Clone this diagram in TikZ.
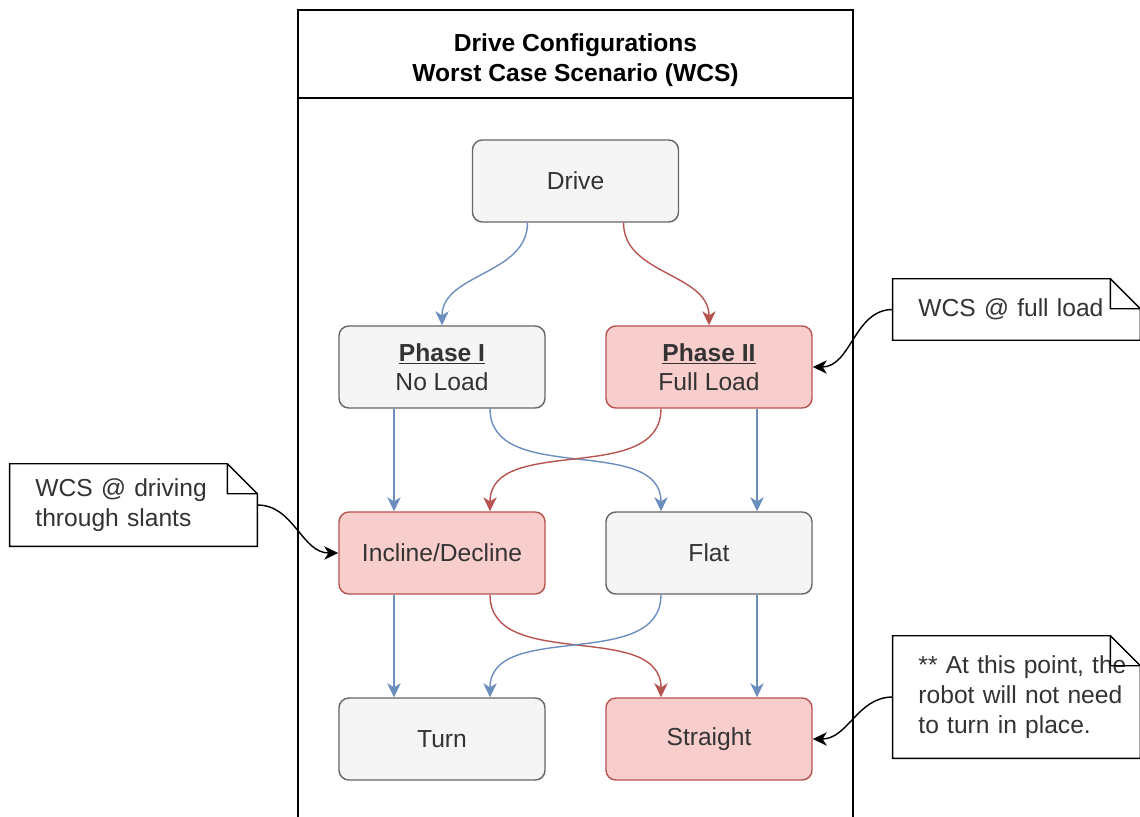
\documentclass[tikz,border=0pt]{standalone}
\usepackage{fontspec}
\setmainfont{Liberation Sans}
\usetikzlibrary{arrows.meta,calc}

\definecolor{lineblue}{HTML}{6C8EBF}
\definecolor{linered}{HTML}{B85450}
\definecolor{fillred}{HTML}{F8CECC}
\definecolor{fillgray}{HTML}{F5F5F5}
\definecolor{linegray}{HTML}{666666}
\definecolor{textgray}{HTML}{333333}

\tikzset{
	every node/.style={font=\fontsize{17.5}{20.5}\selectfont},
	stage/.style={draw=linegray, fill=fillgray, text=textgray, rounded corners=7pt, line width=1pt,
		minimum width=5.15cm, minimum height=2.05cm, align=center},
	hot/.style={stage, draw=linered, fill=fillred},
	note/.style={minimum width=6.175cm, text width=4.9cm, align=left, text=textgray,
		font=\fontsize{17.5}{21.3}\selectfont},
	blueflow/.style={draw=lineblue, line width=1pt, -{Stealth[length=10pt,width=9.5pt,inset=3pt]}},
	redflow/.style={blueflow, draw=linered},
	callout/.style={draw=black, line width=1pt, -{Stealth[length=10pt,width=9.5pt,inset=3pt]}}
}

\begin{document}
\begin{tikzpicture}[x=0.025cm, y=-0.025cm]
		\useasboundingbox (0,0) rectangle (1140,817);

		% Draw the container with its title
		\draw[line width=1pt] (298,817) |- (853,10) -- (853,817);
		\draw[line width=1pt] (298,98) -- (853,98);
		\node[align=center, font=\fontsize{17.5}{21}\selectfont\bfseries] (title) at (575.5,60)
			{Drive Configurations\\Worst Case Scenario (WCS)};

		% Place the stages
		\node[stage] (drive) at (575.5,181) {Drive};
		\node[stage] (p1) at (442,367) {\underline{\textbf{Phase I}}\\No Load};
		\node[hot] (p2) at (709,367) {\underline{\textbf{Phase II}}\\Full Load};
		\node[hot] (incl) at (442,553) {Incline/Decline};
		\node[stage] (flat) at (709,553) {Flat};
		\node[stage] (turn) at (442,739) {Turn};
		\node[hot] (straight) at (709,739) {Straight};

		% Place the notes
		\node[note, minimum height=1.525cm] (noteA) at (1016.5,309.5) {WCS @ full load};
		\node[note, minimum height=2.05cm] (noteB) at (133.5,505) {WCS @ driving\\through slants};
		\node[note, minimum height=3.05cm] (noteC) at (1016.5,697)
			{\mbox{** At this point, the}\\\mbox{robot will not need}\\to turn in place.};
		\foreach \n in {noteA, noteB, noteC} {
			\draw[line width=1pt] (\n.south west) -- (\n.north west) -- ([xshift=-0.75cm]\n.north east)
				-- ([yshift=-0.75cm]\n.north east) -- (\n.south east) -- cycle;
			\draw[line width=1pt] ([xshift=-0.75cm]\n.north east) -- ++(0,30) -- ([yshift=-0.75cm]\n.north east);
		}

		% Straight flows
		\foreach \a/\b in {p1/incl, incl/turn} {
			\draw[blueflow] ([xshift=-1.2cm]\a.south) -- ([xshift=-1.2cm]\b.north);
		}
		\foreach \a/\b in {p2/flat, flat/straight} {
			\draw[blueflow] ([xshift=1.2cm]\a.south) -- ([xshift=1.2cm]\b.north);
		}

		% Crossing flows
		\draw[blueflow] ([xshift=-1.2cm]drive.south) to[out=-90, in=90] (p1.north);
		\draw[redflow] ([xshift=1.2cm]drive.south) to[out=-90, in=90] (p2.north);
		\draw[blueflow] ([xshift=1.2cm]p1.south) to[out=-90, in=90] ([xshift=-1.2cm]flat.north);
		\draw[redflow] ([xshift=-1.2cm]p2.south) to[out=-90, in=90] ([xshift=1.2cm]incl.north);
		\draw[redflow] ([xshift=1.2cm]incl.south) to[out=-90, in=90] ([xshift=-1.2cm]straight.north);
		\draw[blueflow] ([xshift=-1.2cm]flat.south) to[out=-90, in=90] ([xshift=1.2cm]turn.north);

		% Notes point at their stages
		\draw[callout] (noteA.west) to[out=180, in=0] (p2.east);
		\draw[callout] (noteB.east) to[out=0, in=180] (incl.west);
		\draw[callout] (noteC.west) to[out=180, in=0] (straight.east);
	\end{tikzpicture}
\end{document}
